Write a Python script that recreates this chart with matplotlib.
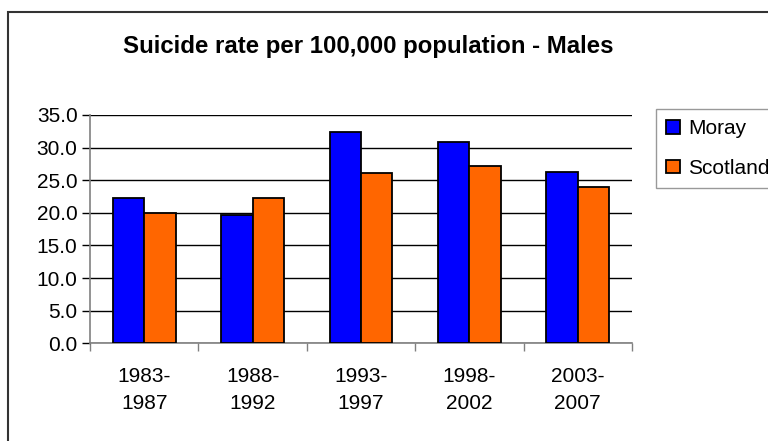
import matplotlib
matplotlib.use("Agg")
import matplotlib.pyplot as plt
from matplotlib.patches import Rectangle
import numpy as np

plt.rcParams['font.family'] = ['Liberation Sans', 'DejaVu Sans']

categories = ["1983-\n1987", "1988-\n1992", "1993-\n1997", "1998-\n2002", "2003-\n2007"]
moray = [22.3, 19.6, 32.4, 30.9, 26.3]
scotland = [19.9, 22.3, 26.1, 27.2, 23.9]
yticks = [0.0, 5.0, 10.0, 15.0, 20.0, 25.0, 30.0, 35.0]

W, H = 768, 441
fig = plt.figure(figsize=(W/100, H/100), dpi=100)
ax = fig.add_axes([90/W, 1-343.3/H, (632-90)/W, (343.3-115)/H])

x = np.arange(len(categories))
bw = 0.29
ax.bar(x - bw/2, moray, bw, color='#0000FF', edgecolor='black', linewidth=1.3, label='Moray', zorder=3)
ax.bar(x + bw/2, scotland, bw, color='#FF6600', edgecolor='black', linewidth=1.3, label='Scotland', zorder=3)

ax.set_xlim(-0.5, len(categories)-0.5)
ax.set_ylim(0, 35)
ax.set_yticks(yticks)
ax.set_yticklabels([f"{v:.1f}" for v in yticks], fontsize=15)
ax.yaxis.grid(True, color='black', linewidth=1.0, zorder=0)
ax.set_axisbelow(True)

ax.set_xticks(x)
ax.set_xticklabels(categories, fontsize=15, linespacing=1.55)
ax.tick_params(axis='x', length=0, pad=17)
ax.set_xticks(np.arange(len(categories)+1) - 0.5, minor=True)
ax.tick_params(axis='x', which='minor', length=6, color='#808080', width=1)
ax.tick_params(axis='y', length=6, color='black', width=1, pad=3)

for s in ['top', 'right']:
    ax.spines[s].set_visible(False)
ax.spines['left'].set_color('#808080')
ax.spines['bottom'].set_color('#808080')
ax.spines['left'].set_linewidth(1.2)
ax.spines['bottom'].set_linewidth(1.2)

fig.text(368/W, 1-46/H, "Suicide rate per 100,000 population - Males", ha='center', va='center',
         fontsize=17.3, fontweight='bold')

leg = fig.legend(loc='upper left', bbox_to_anchor=(656/W, 1-109/H), fontsize=15,
                 frameon=True, fancybox=False, handlelength=0.63, handleheight=0.63,
                 handletextpad=0.4, labelspacing=0.98, borderpad=0.5, borderaxespad=0)
leg.get_frame().set_edgecolor('#808080')
leg.get_frame().set_linewidth(1.0)

fig.patches.append(Rectangle((8/W, -0.1), 1.1, 1-12/H+0.1, transform=fig.transFigure,
                             fill=False, edgecolor='#333333', linewidth=1.5))

fig.savefig("out.png", dpi=100)
